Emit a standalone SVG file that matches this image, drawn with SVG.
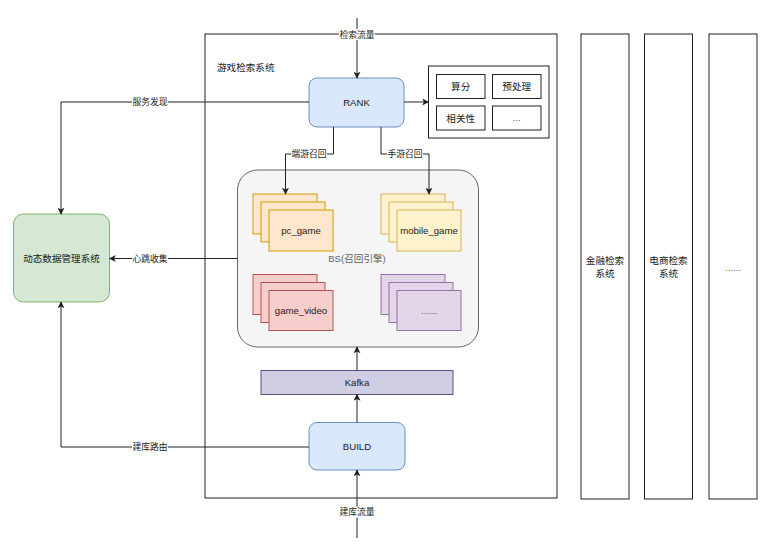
<svg xmlns="http://www.w3.org/2000/svg" width="770" height="558" viewBox="0 0 770 558">
<defs>
<style>
text{font-family:"Liberation Sans","Noto Sans CJK SC",sans-serif;fill:#1a1a1a;text-anchor:middle;dominant-baseline:central}
.n{font-size:9.6px}
.e{font-size:8.8px}
.g{fill:#666}
.ln{fill:none;stroke:#222;stroke-width:1}
.bg{fill:#fff}
.box{fill:#fff;stroke:#222;stroke-width:1}
.blue{fill:#dae8fc;stroke:#6c8ebf}
.or{fill:#ffe6cc;stroke:#d79b00}
.ye{fill:#fff2cc;stroke:#d6b656}
.rd{fill:#f8cecc;stroke:#b85450}
.pu{fill:#e1d5e7;stroke:#9673a6}
</style>
<marker id="ar" viewBox="0 0 10 10" refX="9" refY="5" markerWidth="7" markerHeight="7" markerUnits="userSpaceOnUse" orient="auto">
<path d="M0,0 L10,5 L0,10 L2.5,5 Z" fill="#222"/>
</marker>
</defs>

<g id="game-system">
<rect class="box" x="205" y="34" width="352" height="464"/>
<text class="n" x="217" y="67" style="text-anchor:start">游戏检索系统</text>
</g>

<g id="finance-system">
<rect class="box" x="581" y="34" width="48" height="465"/>
<text class="n" x="605" y="260">金融检索</text>
<text class="n" x="605" y="273">系统</text>
</g>
<g id="ecommerce-system">
<rect class="box" x="644.5" y="34" width="48" height="465"/>
<text class="n" x="668.5" y="260">电商检索</text>
<text class="n" x="668.5" y="273">系统</text>
</g>
<g id="more-systems">
<rect class="box" x="709" y="34" width="48" height="465"/>
<text class="n g" x="733" y="267">......</text>
</g>

<g id="rank">
<rect class="blue" x="309" y="78" width="95" height="49" rx="8"/>
<text class="n" x="356.5" y="102.5">RANK</text>
</g>

<g id="rank-modules">
<rect class="box" x="428.5" y="66" width="120.5" height="72"/>
<rect class="box" x="436.5" y="74.5" width="48.5" height="24"/>
<text class="n" x="460.7" y="86.5">算分</text>
<rect class="box" x="492.5" y="74.5" width="48.5" height="24"/>
<text class="n" x="516.7" y="86.5">预处理</text>
<rect class="box" x="436.5" y="106" width="48.5" height="24"/>
<text class="n" x="460.7" y="118">相关性</text>
<rect class="box" x="492.5" y="106" width="48.5" height="24"/>
<text class="n g" x="516.7" y="117">...</text>
</g>

<g id="bs">
<rect x="237.5" y="170" width="241" height="177" rx="20" fill="#f5f5f5" stroke="#666"/>
<text class="n g" x="357" y="258.5">BS(召回引擎)</text>
</g>

<g id="pc-game">
<rect class="or" x="253" y="194" width="64" height="40"/>
<rect class="or" x="261" y="202" width="64" height="40"/>
<rect class="or" x="269" y="210" width="64" height="41"/>
<text class="n" x="301" y="230">pc_game</text>
</g>

<g id="mobile-game">
<rect class="ye" x="381" y="194" width="64" height="40"/>
<rect class="ye" x="389" y="202" width="64" height="40"/>
<rect class="ye" x="397" y="210" width="64" height="41"/>
<text class="n" x="429" y="230">mobile_game</text>
</g>

<g id="game-video">
<rect class="rd" x="253" y="274.5" width="64" height="40"/>
<rect class="rd" x="261" y="282.5" width="64" height="40"/>
<rect class="rd" x="269" y="290.5" width="64" height="40"/>
<text class="n" x="301" y="310.5">game_video</text>
</g>

<g id="more-bs">
<rect class="pu" x="381" y="274.5" width="64" height="40"/>
<rect class="pu" x="389" y="282.5" width="64" height="40"/>
<rect class="pu" x="397" y="290.5" width="64" height="40"/>
<text class="n g" x="429" y="310">......</text>
</g>

<g id="dms">
<rect x="13.5" y="214" width="96" height="88" rx="10" fill="#d5e8d4" stroke="#82b366"/>
<text class="n" x="61.5" y="258.5">动态数据管理系统</text>
</g>

<g id="kafka">
<rect x="261" y="370.5" width="192" height="24" fill="#d0cee2" stroke="#56517e"/>
<text class="n" x="357" y="382.5">Kafka</text>
</g>

<g id="build">
<rect class="blue" x="309" y="422.5" width="96" height="47.5" rx="8"/>
<text class="n" x="357" y="446.5">BUILD</text>
</g>

<g id="connectors">
<line class="ln" x1="357" y1="18" x2="357" y2="78" marker-end="url(#ar)"/>
<line class="ln" x1="404" y1="102" x2="428.5" y2="102" marker-end="url(#ar)"/>
<polyline class="ln" points="333.5,127 333.5,154 285.5,154 285.5,194" marker-end="url(#ar)"/>
<polyline class="ln" points="381,127 381,154 429,154 429,194" marker-end="url(#ar)"/>
<polyline class="ln" points="309,102 61,102 61,214" marker-end="url(#ar)"/>
<line class="ln" x1="237.5" y1="258.5" x2="109.5" y2="258.5" marker-end="url(#ar)"/>
<polyline class="ln" points="309,447 61,447 61,302" marker-end="url(#ar)"/>
<line class="ln" x1="357" y1="370.5" x2="357" y2="347" marker-end="url(#ar)"/>
<line class="ln" x1="357" y1="422.5" x2="357" y2="394.5" marker-end="url(#ar)"/>
<line class="ln" x1="357" y1="538" x2="357" y2="470" marker-end="url(#ar)"/>
<rect class="bg" x="339" y="29" width="36" height="11"/>
<text class="e" x="357" y="34.5">检索流量</text>
<rect class="bg" x="291" y="149" width="36" height="11"/>
<text class="e" x="309" y="154">端游召回</text>
<rect class="bg" x="387" y="149" width="36" height="11"/>
<text class="e" x="405" y="154">手游召回</text>
<rect class="bg" x="132" y="97" width="36" height="11"/>
<text class="e" x="150" y="102">服务发现</text>
<rect class="bg" x="132" y="253" width="36" height="11"/>
<text class="e" x="150" y="258.5">心跳收集</text>
<rect class="bg" x="132" y="441.5" width="36" height="11"/>
<text class="e" x="150" y="447">建库路由</text>
<rect class="bg" x="339" y="506.5" width="36" height="11"/>
<text class="e" x="357" y="512">建库流量</text>
</g>
</svg>
